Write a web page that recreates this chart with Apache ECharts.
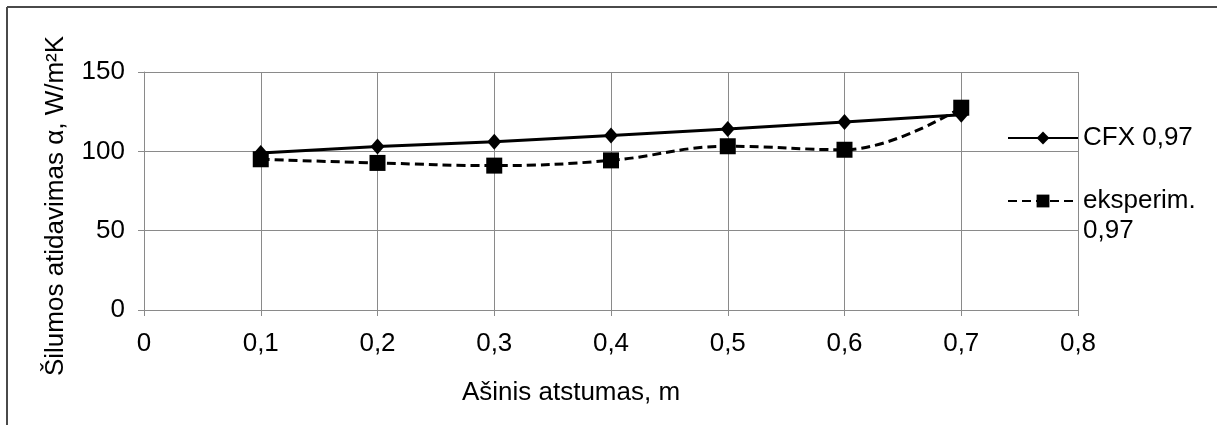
<!DOCTYPE html>
<html>
<head>
<meta charset="utf-8">
<script src="https://cdn.jsdelivr.net/npm/echarts@6/dist/echarts.min.js"></script>
<style>
  html, body { margin: 0; padding: 0; background: #fff; }
  #chart { width: 1217px; height: 425px; }
</style>
</head>
<body>
<div id="chart"></div>
<script>
// atstumas, m
const distances = [0.1, 0.2, 0.3, 0.4, 0.5, 0.6, 0.7];
// CFX 0,97
const cfxValues = [99, 103, 106, 110, 114, 118.5, 123];
// eksperim. 0,97
const expValues = [95, 92.7, 91, 94.3, 103.2, 101, 127.5];

const seriesNames = ['CFX 0,97', 'eksperim. 0,97'];
const xTickLabels = ['0', '0,1', '0,2', '0,3', '0,4', '0,5', '0,6', '0,7', '0,8'];
const yTickLabels = ['0', '50', '100', '150'];

const font = "'Liberation Sans', Arial, sans-serif";
const gridColor = '#8a8a8a';
const fs = 26;

const chart = echarts.init(document.getElementById('chart'));

const option = {
  animation: false,
  backgroundColor: '#fff',
  textStyle: { fontFamily: font, color: '#000' },
  grid: { left: 144, right: 139, top: 72, bottom: 115 },
  graphic: [
    { type: 'line', shape: { x1: 7, y1: 7, x2: 1217, y2: 7 }, style: { stroke: '#4a4a4a', lineWidth: 2 } },
    { type: 'line', shape: { x1: 7, y1: 7, x2: 7, y2: 425 }, style: { stroke: '#4a4a4a', lineWidth: 2 } }
  ],
  legend: [
    {
      data: [seriesNames[0]],
      left: 1007,
      top: 125,
      padding: 0,
      itemWidth: 70,
      itemHeight: 16,
      textStyle: { fontSize: fs, fontFamily: font, color: '#000' }
    },
    {
      data: [seriesNames[1]],
      left: 1007,
      top: 156,
      padding: 0,
      itemWidth: 70,
      itemHeight: 16,
      // empty first line keeps "eksperim." level with the icon
      formatter: name => ' \n' + name.replace(' ', '\n'),
      textStyle: { fontSize: fs, fontFamily: font, color: '#000', lineHeight: 30 }
    }
  ],
  xAxis: {
    type: 'value',
    min: 0,
    max: 0.8,
    interval: 0.1,
    name: 'Ašinis atstumas, m',
    nameLocation: 'middle',
    nameGap: 70,
    nameTextStyle: { fontSize: fs, fontFamily: font, color: '#000', padding: [0, 80, 0, 0] },
    axisLine: { show: true, lineStyle: { color: gridColor, width: 1 } },
    axisTick: { show: true, length: 6, lineStyle: { color: gridColor } },
    axisLabel: {
      fontSize: fs,
      fontFamily: font,
      color: '#000',
      margin: 21,
      formatter: v => xTickLabels[Math.round(v * 10)]
    },
    splitLine: { show: true, lineStyle: { color: gridColor, width: 1 } }
  },
  yAxis: {
    type: 'value',
    min: 0,
    max: 150,
    interval: 50,
    name: 'Šilumos atidavimas α, W/m²K',
    nameLocation: 'middle',
    nameGap: 75,
    nameTextStyle: { fontSize: fs, fontFamily: font, color: '#000', padding: [0, 30, 0, 0] },
    axisLine: { show: true, lineStyle: { color: gridColor, width: 1 } },
    axisTick: { show: true, length: 6, lineStyle: { color: gridColor } },
    axisLabel: {
      fontSize: fs,
      fontFamily: font,
      color: '#000',
      margin: 19,
      formatter: v => yTickLabels[Math.round(v / 50)]
    },
    splitLine: { show: true, lineStyle: { color: gridColor, width: 1 } }
  },
  series: [
    {
      name: seriesNames[0],
      type: 'line',
      data: distances.map((d, i) => [d, cfxValues[i]]),
      symbol: 'diamond',
      symbolSize: [14, 16],
      itemStyle: { color: '#000' },
      lineStyle: { color: '#000', width: 3 },
      z: 2
    },
    {
      name: seriesNames[1],
      type: 'line',
      data: distances.map((d, i) => [d, expValues[i]]),
      smooth: 0.4,
      symbol: 'rect',
      symbolSize: 16,
      itemStyle: { color: '#000' },
      lineStyle: { color: '#000', width: 3, type: [9, 5] },
      z: 3
    }
  ]
};

chart.setOption(option);
</script>
</body>
</html>
